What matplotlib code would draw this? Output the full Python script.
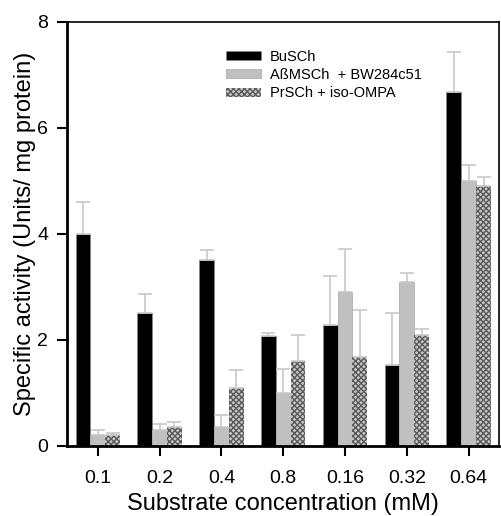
import matplotlib
matplotlib.use('Agg')
import matplotlib.pyplot as plt
import numpy as np

plt.rcParams['font.family'] = ['Liberation Sans', 'DejaVu Sans']
plt.rcParams['hatch.linewidth'] = 1.0

# données
concentrations = ['0.1', '0.2', '0.4', '0.8', '0.16', '0.32', '0.64']
busch = [4.0, 2.5, 3.5, 2.08, 2.28, 1.52, 6.68]
busch_err = [0.6, 0.37, 0.2, 0.06, 0.92, 0.98, 0.75]
abmsch = [0.2, 0.3, 0.35, 1.0, 2.9, 3.1, 5.0]
abmsch_err = [0.1, 0.11, 0.23, 0.45, 0.82, 0.17, 0.3]
prsch = [0.2, 0.35, 1.1, 1.6, 1.68, 2.1, 4.9]
prsch_err = [0.05, 0.11, 0.33, 0.5, 0.88, 0.11, 0.18]

couleur_err = '#c8c8c8'
err_style = dict(capsize=5, elinewidth=1.2, capthick=1.2)

fig = plt.figure(figsize=(5.01, 5.16), dpi=100)
ax = fig.add_axes([0.1347, 0.1357, 0.8613, 0.8217])

x = np.arange(len(concentrations))
w = 0.24
zero = np.zeros(len(x))

ax.bar(x - w, busch, w, color='black', edgecolor='#888888', linewidth=0.6,
       yerr=[zero, busch_err], ecolor=couleur_err, error_kw=err_style, label='BuSCh')
ax.bar(x, abmsch, w, color='#c0c0c0', edgecolor='#b0b0b0', linewidth=0.6,
       yerr=[zero, abmsch_err], ecolor=couleur_err, error_kw=err_style,
       label='AßMSCh  + BW284c51')
ax.bar(x + w, prsch, w, color='#c8c8c8', edgecolor='#5a5a5a', hatch='xxxxxx', linewidth=0,
       yerr=[zero, prsch_err], ecolor=couleur_err, error_kw=err_style,
       label='PrSCh + iso-OMPA')

ax.set_xlim(-0.49, 6.49)
ax.set_ylim(0, 8)
ax.set_xticks(x)
ax.set_xticklabels(concentrations)
ax.set_yticks([0, 2, 4, 6, 8])
ax.tick_params(axis='both', direction='out', length=7, width=1.5, labelsize=14)
ax.tick_params(axis='x', pad=10)
ax.tick_params(axis='y', pad=7)

for s in ['left', 'bottom']:
    ax.spines[s].set_linewidth(2)
for s in ['top', 'right']:
    ax.spines[s].set_linewidth(1.2)

ax.set_xlabel('Substrate concentration (mM)', fontsize=17, labelpad=4.5)
ax.set_ylabel('Specific activity (Units/ mg protein)', fontsize=17, labelpad=1)

ax.legend(loc='upper left', bbox_to_anchor=(0.451, 0.904), bbox_transform=fig.transFigure,
          frameon=False, fontsize=10.5, borderpad=0, borderaxespad=0,
          handlelength=2.4, handleheight=0.6, labelspacing=0.3, handletextpad=0.6)

fig.savefig('out.png', dpi=100)
